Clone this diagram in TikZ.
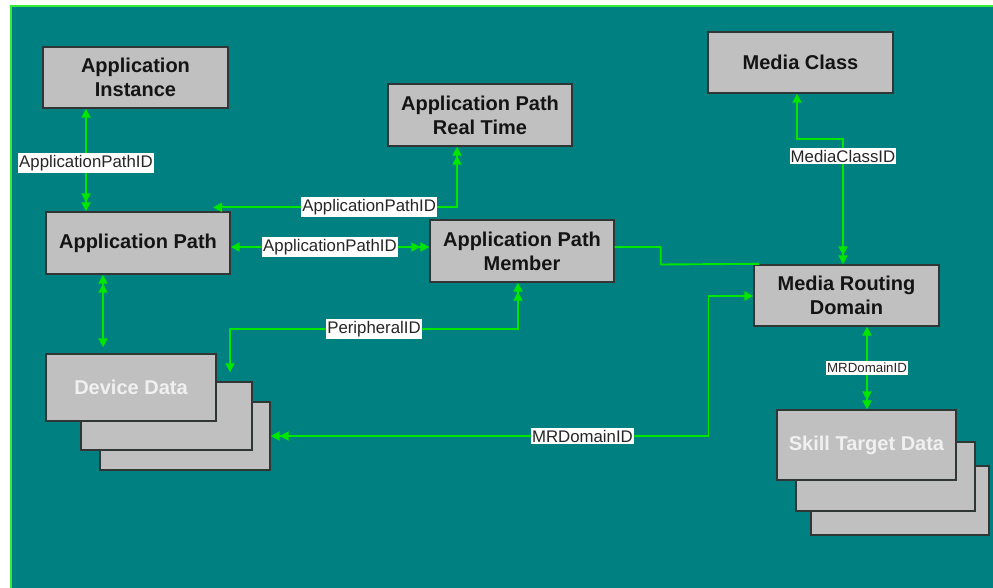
\documentclass[tikz,border=0pt]{standalone}
\usepackage{fontspec}
\setmainfont{Liberation Sans}
\usetikzlibrary{arrows.meta}
\definecolor{teal0}{HTML}{008080}
\definecolor{frameG}{HTML}{33EE33}
\definecolor{lineG}{HTML}{00E600}
\definecolor{boxF}{HTML}{C0C0C0}
\definecolor{boxD}{HTML}{303636}
\definecolor{txtD}{HTML}{141414}
\begin{document}
\begin{tikzpicture}[x=1bp,y=-1bp,
  >={Triangle[length=9bp,width=9bp]},
  ent/.style={draw=boxD,fill=boxF,line width=1.4bp,inner sep=0pt,align=center,
    text=txtD,font=\fontsize{20bp}{24bp}\selectfont\bfseries},
  stackbox/.style={ent,text=white!94!black},
  conn/.style={draw=lineG,line width=1.9bp},
  lbl/.style={fill=white,inner xsep=1bp,inner ysep=2bp,text=black!85,
    font=\fontsize{16.8bp}{18bp}\selectfont},
  slbl/.style={lbl,font=\fontsize{13.3bp}{15bp}\selectfont}]
\useasboundingbox (0,0) rectangle (993,588);
\fill[white] (0,0) rectangle (993,588);
\draw[fill=teal0,draw=frameG,line width=1.8bp] (11,6) rectangle (1000,595);

% boxes
\node[ent,minimum width=185bp,minimum height=61bp] (ai) at (135.5,77.5) {Application\\Instance};
\node[ent,minimum width=184bp,minimum height=62bp] (ap) at (138,243) {Application Path};
\node[ent,minimum width=184bp,minimum height=62bp] (aprt) at (480,115) {Application Path\\Real Time};
\node[ent,minimum width=184bp,minimum height=62bp] (apm) at (522,251) {Application Path\\Member};
\node[ent,minimum width=185bp,minimum height=61bp] (mc) at (800.5,62.5) {Media Class};
\node[ent,minimum width=185bp,minimum height=61bp] (mrd) at (846.5,295.5) {Media Routing\\Domain};

\node[stackbox,minimum width=170bp,minimum height=68bp] (dd3) at (185,436) {};
\node[stackbox,minimum width=171bp,minimum height=68bp] (dd2) at (166.5,416) {};
\node[stackbox,minimum width=170bp,minimum height=67bp] (dd1) at (131,387.5) {Device Data};

\node[stackbox,minimum width=178bp,minimum height=69bp] (std3) at (900,500.5) {};
\node[stackbox,minimum width=179bp,minimum height=69bp] (std2) at (885.5,476.5) {};
\node[stackbox,minimum width=179bp,minimum height=70bp] (std1) at (866.5,445) {Skill Target Data};

% connectors
\draw[conn,<->>] ([xshift=-49.5bp]ai.south) -- node[lbl,pos=0.53]{ApplicationPathID} ([xshift=-52bp]ap.north);
\draw[conn,<->>] ([xshift=75bp,yshift=4bp]ap.north) -| node[lbl,pos=0.32]{ApplicationPathID} ([xshift=-23bp]aprt.south);
\draw[conn,<->>] ([yshift=-4bp]ap.east) -- node[lbl]{ApplicationPathID} ([yshift=4bp]apm.west);
\draw[conn,<<->] ([xshift=-35bp]ap.south) -- ([xshift=-28bp,yshift=6bp]dd1.north);
\draw[conn,<<->] ([xshift=-4bp]apm.south) -- ++(0,46) -| node[lbl,pos=0.25]{PeripheralID} ([xshift=63.5bp,yshift=9bp]dd2.north);
\draw[conn] ([yshift=4bp]apm.east) -- ++(46,0) -- ++(0,17.5) -- ([xshift=6bp,yshift=0.5bp]mrd.north west);
\draw[conn,<->>] ([xshift=-3.5bp]mc.south) -- ++(0,45) -| node[lbl,pos=0.57]{MediaClassID} ([xshift=-3.5bp]mrd.north);
\draw[conn,<->>] ([yshift=-0.5bp]mrd.west) -- ++(-44.8,0) |- node[lbl,pos=0.644]{MRDomainID} (dd3.east);
\draw[conn,<->>] ([xshift=20.5bp]mrd.south) -- node[slbl]{MRDomainID} ([xshift=0.5bp]std1.north);
\end{tikzpicture}
\end{document}
